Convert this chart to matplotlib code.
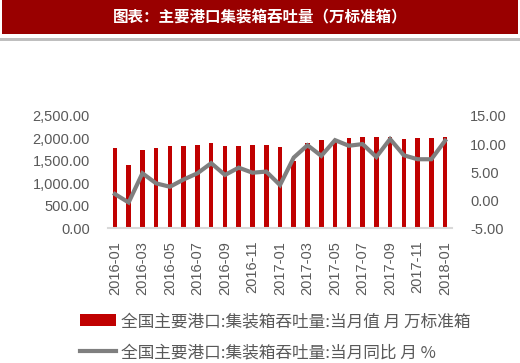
import matplotlib
matplotlib.use("Agg")
import matplotlib.pyplot as plt
from matplotlib.patches import Rectangle, Patch
from matplotlib.lines import Line2D
import numpy as np

plt.rcParams['font.family'] = ['Liberation Sans', 'Noto Sans CJK SC', 'DejaVu Sans']

months = ['2016-01', '2016-02', '2016-03', '2016-04', '2016-05', '2016-06', '2016-07',
          '2016-08', '2016-09', '2016-10', '2016-11', '2016-12', '2017-01', '2017-02',
          '2017-03', '2017-04', '2017-05', '2017-06', '2017-07', '2017-08', '2017-09',
          '2017-10', '2017-11', '2017-12', '2018-01']
throughput = [1795, 1403, 1744, 1795, 1826, 1826, 1862, 1893, 1826, 1826, 1862, 1860,
              1817, 1505, 1900, 1960, 1996, 2011, 2040, 2040, 2025, 1982, 2011, 2011, 2040]
yoy = [1.1, -0.4, 4.8, 3.0, 2.4, 3.7, 4.8, 6.6, 4.5, 5.8, 4.9, 5.1,
       2.7, 7.6, 9.8, 7.9, 10.7, 9.7, 10.0, 7.7, 10.9, 8.0, 7.3, 7.3, 10.6]
left_ticks = [0, 500, 1000, 1500, 2000, 2500]
right_ticks = [-5, 0, 5, 10, 15]

title = '图表：主要港口集装箱吞吐量（万标准箱）'
bar_label = '全国主要港口:集装箱吞吐量:当月值 月 万标准箱'
line_label = '全国主要港口:集装箱吞吐量:当月同比 月 %'

W, H = 520, 363
fig = plt.figure(figsize=(W / 100, H / 100), dpi=100)

# title banner
fig.patches.append(Rectangle((2 / W, 1 - 34 / H), 516 / W, 34 / H, transform=fig.transFigure,
                             facecolor='#990000', edgecolor='none'))
fig.patches.append(Rectangle((0, 1 - 40.5 / H), 1, 2 / H, transform=fig.transFigure,
                             facecolor='#bfbfbf', edgecolor='none'))
fig.text(260 / W, 1 - 17.5 / H, title, color='white', fontsize=11.2, fontweight='bold',
         ha='center', va='center', family=['Noto Sans CJK SC', 'DejaVu Sans'])

ax = fig.add_axes([108 / W, 1 - 228.3 / H, (452 - 108) / W, (228.3 - 116) / H])
x = np.arange(len(months))
ax.bar(x, throughput, width=0.33, color='#C00000', zorder=2)
ax.set_ylim(0, 2500)
ax.set_xlim(-0.5, 24.5)
ax.set_yticks(left_ticks)
ax.set_yticklabels([f'{v:,.2f}' for v in left_ticks])
ax.set_xticks(x[::2])
ax.set_xticklabels(months[::2], rotation=90)
for s in ['top', 'right', 'left']:
    ax.spines[s].set_visible(False)
ax.spines['bottom'].set_color('#d9d9d9')
ax.spines['bottom'].set_linewidth(1.5)
ax.tick_params(axis='both', length=0, labelsize=10.5, colors='#595959')
ax.tick_params(axis='y', pad=13)
ax.tick_params(axis='x', pad=9)

ax2 = ax.twinx()
ax2.plot(x, yoy, color='#7f7f7f', linewidth=3, solid_joinstyle='miter', zorder=3)
ax2.set_ylim(-5, 15)
ax2.set_yticks(right_ticks)
ax2.set_yticklabels([f'{v:.2f}' for v in right_ticks])
for s in ['top', 'right', 'left', 'bottom']:
    ax2.spines[s].set_visible(False)
ax2.tick_params(axis='y', length=0, labelsize=10.5, colors='#595959', pad=13)

handles = [Patch(facecolor='#C00000', edgecolor='none'),
           Line2D([0], [0], color='#7f7f7f', linewidth=3)]
leg = fig.legend(handles, [bar_label, line_label], loc='upper left',
                 bbox_to_anchor=(80 / W, 1 - 313 / H), frameon=False,
                 prop={'family': ['Noto Sans CJK SC', 'DejaVu Sans'], 'size': 12},
                 handlelength=2.15, handleheight=0.7, handletextpad=0.3, labelspacing=0.85,
                 borderaxespad=0, borderpad=0)
for t in leg.get_texts():
    t.set_color('#595959')

fig.savefig('out.png', dpi=100)
